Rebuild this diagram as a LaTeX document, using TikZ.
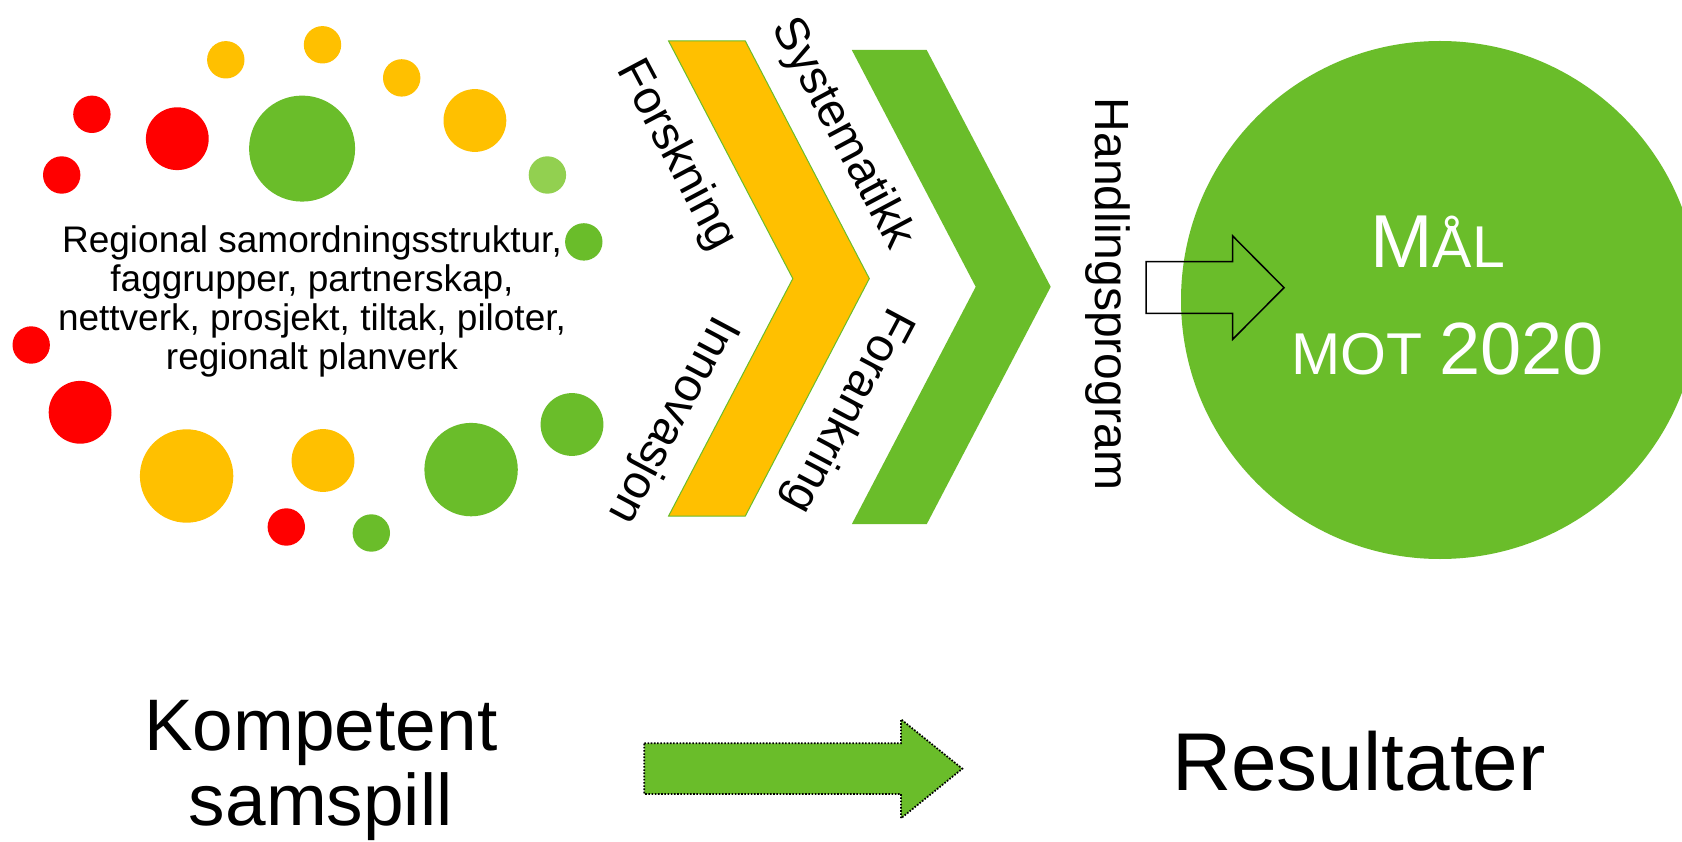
\documentclass[tikz,border=0pt]{standalone}
\usepackage{fontspec}
\setmainfont{Liberation Sans}
\definecolor{cgreen}{RGB}{106,189,42}
\definecolor{cyellow}{RGB}{255,192,0}
\definecolor{cred}{RGB}{255,0,0}
\definecolor{clgreen}{RGB}{146,208,80}
\begin{document}
\begin{tikzpicture}[x=1pt,y=-1pt,
  txt/.style={inner sep=0pt,outer sep=0pt,text=black},
  chevtxt/.style={txt,font=\fontsize{47}{50}\selectfont},
  blobred/.style={fill=cred},
  blobyellow/.style={fill=cyellow},
  blobgreen/.style={fill=cgreen},
  bloblight/.style={fill=clgreen}]
\useasboundingbox (0,0) rectangle (1682,842);
\clip (0,0) rectangle (1682,842);
\fill[white] (0,0) rectangle (1682,842);

% small dots
\fill[blobyellow] (225.8,59.8) circle[radius=18.7];
\fill[blobyellow] (322.5,44.8) circle[radius=18.7];
\fill[blobyellow] (401.7,77.9) circle[radius=18.7];
\fill[bloblight] (547.4,175) circle[radius=18.7];
\fill[blobred] (91.9,114.3) circle[radius=18.7];
\fill[blobred] (61.7,175) circle[radius=18.7];
\fill[blobgreen] (583.8,241.9) circle[radius=18.7];
\fill[blobred] (31.2,345) circle[radius=18.7];
\fill[blobred] (286.3,527) circle[radius=18.7];
\fill[blobgreen] (371.3,533) circle[radius=18.7];
% medium dots
\fill[blobyellow] (474.9,120.5) circle[radius=31.4];
\fill[blobred] (177.3,138.7) circle[radius=31.4];
\fill[blobred] (80.1,412.3) circle[radius=31.4];
\fill[blobyellow] (323,460.5) circle[radius=31.4];
\fill[blobgreen] (572,424.5) circle[radius=31.4];
% big dots
\fill[blobyellow] (186.6,476) circle[radius=46.7];
\fill[blobgreen] (471.1,469.6) circle[radius=46.7];
\fill[blobgreen] (302.1,148.6) circle[radius=53];

\node[txt,align=center,font=\fontsize{37}{39}\selectfont] (regional) at (312,301)
  {Regional samordningsstruktur,\\faggrupper, partnerskap,\\nettverk, prosjekt, tiltak, piloter,\\regionalt planverk};

% chevrons
\draw[fill=cyellow,draw=cgreen,line width=1pt,line join=miter]
  (668.6,41) -- (745.3,41) -- (869.3,278.6) -- (745.3,516) -- (668.6,516) -- (792.8,278.6) -- cycle;
\fill[cgreen]
  (851.8,50) -- (926.7,50) -- (1050.7,286.8) -- (926.7,524.2) -- (851.8,524.2) -- (975.7,286.8) -- cycle;

\node[chevtxt,rotate=-62] (forskning) at (675.7,155.4) {Forskning};
\node[chevtxt,rotate=-62] (systematikk) at (841.7,134) {Systematikk};
\node[chevtxt,rotate=-118] (innovasjon) at (672,419.6) {Innovasjon};
\node[chevtxt,rotate=-118] (forankring) at (847,410.6) {Forankring};
\node[txt,font=\fontsize{48}{50}\selectfont,rotate=-90,anchor=base] (handling) at (1095.5,294) {Handlingsprogram};

% goal circle
\fill[cgreen] (1440,300) circle[radius=259];
\node[txt,text=white,anchor=base] (mal) at (1437.5,267.7)
  {\fontsize{75}{75}\selectfont M\fontsize{59}{59}\selectfont ÅL};
\node[txt,text=white,anchor=base] (mot) at (1447.7,374.3)
  {\fontsize{59}{59}\selectfont MOT \fontsize{74}{74}\selectfont 2020};

% hollow arrow
\draw[black,line width=1.5pt,line join=miter]
  (1146,261.7) -- (1232.7,261.7) -- (1232.7,236) -- (1284,287.7) -- (1232.7,339.3) -- (1232.7,313.3) -- (1146,313.3) -- cycle;

% bottom row
\node[txt,align=center,font=\fontsize{73}{75}\selectfont] (kompetent) at (320.8,770.7) {Kompetent\\samspill};
\node[txt,anchor=base,font=\fontsize{82}{84}\selectfont] (resultater) at (1359,790) {Resultater};
\draw[fill=cgreen,draw=black,line width=1.8pt,dash pattern=on 1.6pt off 1.6pt,line join=miter]
  (644.3,743.3) -- (901,743.3) -- (901,719.3) -- (962.3,768.7) -- (901,818.3) -- (901,794) -- (644.3,794) -- cycle;
\end{tikzpicture}
\end{document}
